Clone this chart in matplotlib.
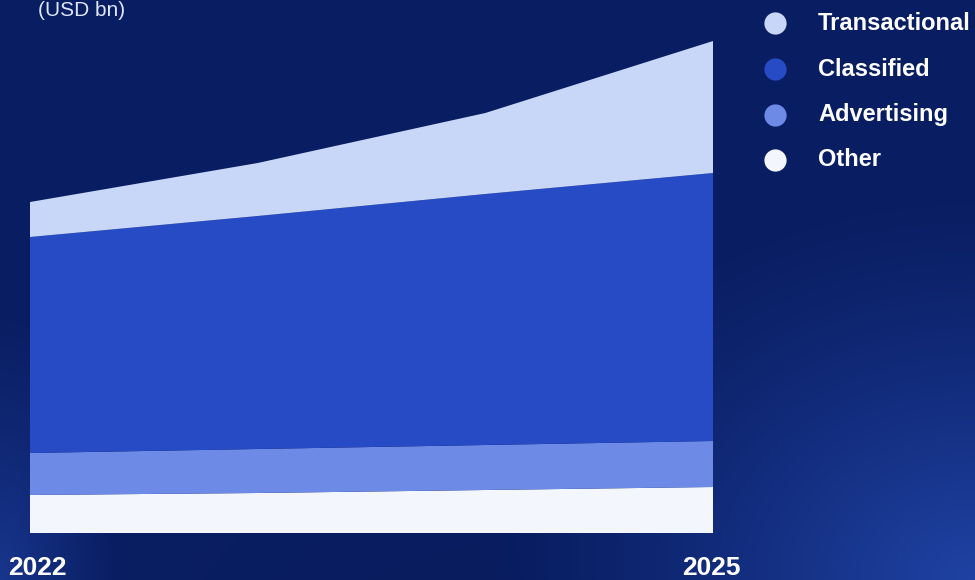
import numpy as np
import matplotlib
matplotlib.use("Agg")
import matplotlib.pyplot as plt
from matplotlib.colors import to_rgb

plt.rcParams['font.family'] = ['Liberation Sans', 'DejaVu Sans']

years = [2022, 2023, 2024, 2025]
series_names = ["Other", "Advertising", "Classified", "Transactional"]
other = [3.8, 4.0, 4.3, 4.6]
advertising = [4.2, 4.4, 4.5, 4.6]
classified = [21.6, 23.3, 25.1, 26.8]
transactional = [3.5, 5.3, 8.1, 13.2]
tick_labels = ["2022", "2025"]
unit_label = "(USD bn)"

colors = {
    "Transactional": "#c8d6f7",
    "Classified": "#264bc4",
    "Advertising": "#6d8ae6",
    "Other": "#f3f6fd",
}

W, H = 975, 580
fig = plt.figure(figsize=(W / 100, H / 100), dpi=100)

# background gradient
bg = fig.add_axes([0, 0, 1, 1], zorder=-10)
yy, xx = np.mgrid[0:1:290j, 0:1:488j]
base = np.array(to_rgb("#0a1e63"))
dark = np.array(to_rgb("#061a5a"))
bright = np.array(to_rgb("#1f42a3"))
left = np.array(to_rgb("#1a3a94"))
img = np.ones((290, 488, 3)) * base
t_dark = np.clip(yy, 0, 1) ** 2 * np.exp(-((xx - 0.5) / 0.35) ** 2)
img = img * (1 - 0.5 * t_dark[..., None]) + dark * 0.5 * t_dark[..., None]
d_br = np.sqrt(((xx - 1.0) / 0.5) ** 2 + ((yy - 1.0) / 0.65) ** 2)
w_br = np.clip(1 - d_br, 0, 1) ** 1.2
img = img * (1 - w_br[..., None]) + bright * w_br[..., None]
d_bl = np.sqrt(((xx - 0.0) / 0.12) ** 2 + ((yy - 1.0) / 0.45) ** 2)
w_bl = np.clip(1 - d_bl, 0, 1) ** 1.1 * 0.85
img = img * (1 - w_bl[..., None]) + left * w_bl[..., None]
bg.imshow(img, aspect="auto", extent=[0, 1, 0, 1], origin="upper")
bg.set_axis_off()

# stacked area chart
ax = fig.add_axes([30 / W, 47 / H, (713 - 30) / W, 533 / H])
ax.set_facecolor("none")
ax.stackplot(years, other, advertising, classified, transactional,
             colors=[colors[n] for n in series_names], linewidth=0)
ax.set_xlim(years[0], years[-1])
ax.set_ylim(0, 53.3)
ax.set_axis_off()

# year labels
fig.text(8 / W, 1 - 568 / H, tick_labels[0], color="white", fontsize=19,
         fontweight="bold", ha="left", va="center")
fig.text(711 / W, 1 - 568 / H, tick_labels[1], color="white", fontsize=19,
         fontweight="bold", ha="center", va="center")

# unit label at the top edge
fig.text(38 / W, 1 - 1 / H, unit_label, color="#dfe6f7", fontsize=15,
         ha="left", va="top")

# legend
legend_order = ["Transactional", "Classified", "Advertising", "Other"]
legend_y = [23, 69, 115, 160]
lax = fig.add_axes([0, 0, 1, 1], zorder=5)
lax.set_xlim(0, W)
lax.set_ylim(H, 0)
lax.set_axis_off()
for name, y in zip(legend_order, legend_y):
    lax.plot(775, y, "o", ms=16, color=colors[name], mec="none")
    lax.text(818, y, name, color="white", fontsize=17, fontweight="bold",
             ha="left", va="center")

fig.savefig("out.png", dpi=100)
